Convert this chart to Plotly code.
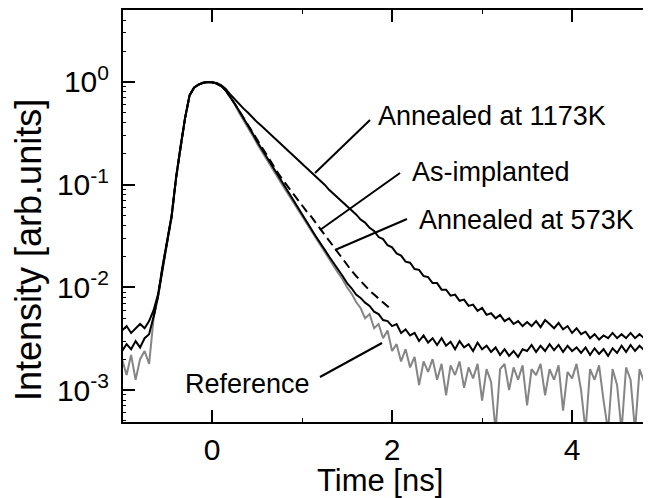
import plotly.graph_objects as go

# ---------------- data ----------------
time_ns = [
    -1.00, -0.95, -0.90, -0.85, -0.80, -0.75, -0.70, -0.65, -0.60, -0.55,
    -0.50, -0.45, -0.40, -0.35, -0.30, -0.25, -0.20, -0.15, -0.10, -0.05,
    0.00, 0.05, 0.10, 0.15, 0.20, 0.25, 0.30, 0.35, 0.40, 0.45,
    0.50, 0.55, 0.60, 0.65, 0.70, 0.75, 0.80, 0.85, 0.90, 0.95,
    1.00, 1.05, 1.10, 1.15, 1.20, 1.25, 1.30, 1.35, 1.40, 1.45,
    1.50, 1.55, 1.60, 1.65, 1.70, 1.75, 1.80, 1.85, 1.90, 1.95,
    2.00, 2.05, 2.10, 2.15, 2.20, 2.25, 2.30, 2.35, 2.40, 2.45,
    2.50, 2.55, 2.60, 2.65, 2.70, 2.75, 2.80, 2.85, 2.90, 2.95,
    3.00, 3.05, 3.10, 3.15, 3.20, 3.25, 3.30, 3.35, 3.40, 3.45,
    3.50, 3.55, 3.60, 3.65, 3.70, 3.75, 3.80, 3.85, 3.90, 3.95,
    4.00, 4.05, 4.10, 4.15, 4.20, 4.25, 4.30, 4.35, 4.40, 4.45,
    4.50, 4.55, 4.60, 4.65, 4.70, 4.75, 4.80, 4.85, 4.90,
]

reference = [
    2.0e-3, 1.4e-3, 2.2e-3, 1.26e-3, 2.0e-3, 2.4e-3, 1.8e-3, 5.0e-3, 8.1e-3, 0.0155,
    0.027, 0.048, 0.115, 0.235, 0.44, 0.735, 0.878, 0.942, 0.981, 1.0,
    0.992, 0.965, 0.91, 0.828, 0.72, 0.61, 0.501, 0.427, 0.355, 0.302,
    0.251, 0.214, 0.178, 0.151, 0.129, 0.110, 0.0933, 0.0794, 0.0676, 0.0575,
    0.049, 0.0417, 0.0355, 0.0302, 0.0263, 0.0219, 0.0191, 0.0162, 0.0138, 0.0120,
    0.0100, 8.7e-3, 7.2e-3, 6.3e-3, 5.0e-3, 5.5e-3, 4.0e-3, 4.4e-3, 3.2e-3, 3.8e-3,
    2.4e-3, 2.8e-3, 1.9e-3, 2.5e-3, 1.66e-3, 2.1e-3, 1.12e-3, 1.9e-3, 1.5e-3, 2.0e-3,
    1.26e-3, 1.8e-3, 8.9e-4, 1.74e-3, 1.4e-3, 1.9e-3, 1.05e-3, 1.66e-3, 1.3e-3, 1.8e-3,
    7.9e-4, 1.6e-3, 1.2e-3, 4.0e-4, 1.6e-3, 1.8e-3, 1.0e-3, 1.66e-3, 1.26e-3, 1.74e-3,
    7.1e-4, 1.6e-3, 1.4e-3, 1.8e-3, 8.9e-4, 1.6e-3, 1.26e-3, 1.74e-3, 6.3e-4, 1.5e-3,
    1.3e-3, 1.8e-3, 1.0e-3, 4.0e-4, 1.6e-3, 1.26e-3, 1.74e-3, 7.9e-4, 4.0e-4, 1.6e-3,
    1.12e-3, 4.0e-4, 1.66e-3, 1.26e-3, 4.0e-4, 1.6e-3, 1.2e-3, 1.8e-3, 1.0e-3,
]

annealed_573k = [
    2.4e-3, 2.8e-3, 2.5e-3, 3.0e-3, 2.6e-3, 3.2e-3, 3.5e-3, 5.2e-3, 8.3e-3, 0.0158,
    0.0275, 0.049, 0.117, 0.240, 0.447, 0.741, 0.881, 0.944, 0.982, 1.0,
    0.993, 0.966, 0.912, 0.832, 0.724, 0.617, 0.525, 0.447, 0.372, 0.316,
    0.263, 0.224, 0.186, 0.158, 0.135, 0.115, 0.0977, 0.0832, 0.0708, 0.0603,
    0.0513, 0.0437, 0.0372, 0.0316, 0.0275, 0.0234, 0.0200, 0.0174, 0.0148, 0.0129,
    0.0110, 9.8e-3, 8.5e-3, 7.9e-3, 7.1e-3, 6.6e-3, 5.8e-3, 5.5e-3, 4.8e-3, 4.7e-3,
    4.2e-3, 4.4e-3, 3.6e-3, 3.9e-3, 3.4e-3, 3.6e-3, 3.0e-3, 3.4e-3, 2.9e-3, 3.2e-3,
    2.75e-3, 3.2e-3, 2.7e-3, 2.95e-3, 2.5e-3, 3.0e-3, 2.6e-3, 2.8e-3, 2.4e-3, 2.9e-3,
    2.5e-3, 2.7e-3, 2.35e-3, 2.6e-3, 2.2e-3, 2.5e-3, 2.15e-3, 2.4e-3, 2.1e-3, 2.5e-3,
    2.4e-3, 2.75e-3, 2.35e-3, 2.7e-3, 2.4e-3, 2.8e-3, 2.45e-3, 2.75e-3, 2.35e-3, 2.7e-3,
    2.4e-3, 2.6e-3, 2.3e-3, 2.6e-3, 2.2e-3, 2.55e-3, 2.25e-3, 2.5e-3, 2.15e-3, 2.55e-3,
    2.3e-3, 2.7e-3, 2.35e-3, 2.75e-3, 2.4e-3, 2.7e-3, 2.45e-3, 2.8e-3, 2.5e-3,
]

as_implanted = (
    [None] * 7
    + [5.2e-3, 8.3e-3, 0.0158,
       0.0275, 0.049, 0.117, 0.240, 0.447, 0.741, 0.881, 0.944, 0.982, 1.0,
       0.993, 0.966, 0.912, 0.832, 0.724, 0.617, 0.525, 0.447, 0.372, 0.316,
       0.269, 0.229, 0.195, 0.170, 0.145, 0.123, 0.107, 0.0933, 0.0813, 0.0708,
       0.0631, 0.055, 0.049, 0.0427, 0.0372, 0.0324, 0.0282, 0.0245, 0.0214, 0.0186,
       0.0162, 0.0145, 0.0129, 0.0115, 0.0102, 9.3e-3, 8.5e-3, 7.8e-3, 7.1e-3, 6.5e-3,
       6.0e-3]
    + [None] * 58
)

annealed_1173k = [
    3.8e-3, 4.2e-3, 3.6e-3, 4.0e-3, 4.4e-3, 4.0e-3, 4.7e-3, 6.0e-3, 8.6e-3, 0.0162,
    0.028, 0.05, 0.118, 0.242, 0.45, 0.745, 0.884, 0.946, 0.983, 1.0,
    0.995, 0.977, 0.933, 0.861, 0.759, 0.676, 0.603, 0.550, 0.501, 0.447,
    0.407, 0.372, 0.339, 0.309, 0.282, 0.257, 0.234, 0.209, 0.191, 0.174,
    0.158, 0.145, 0.132, 0.120, 0.110, 0.100, 0.0891, 0.0813, 0.0741, 0.0676,
    0.0617, 0.0562, 0.0513, 0.0457, 0.0427, 0.038, 0.0355, 0.0309, 0.0295, 0.0257,
    0.0245, 0.0214, 0.0204, 0.0178, 0.0174, 0.0151, 0.0148, 0.0129, 0.0126, 0.011,
    0.011, 9.5e-3, 9.5e-3, 8.3e-3, 8.5e-3, 7.4e-3, 7.6e-3, 6.6e-3, 6.8e-3, 5.9e-3,
    6.3e-3, 5.4e-3, 5.6e-3, 5.0e-3, 5.4e-3, 4.7e-3, 5.0e-3, 4.4e-3, 4.7e-3, 4.2e-3,
    4.6e-3, 4.2e-3, 4.7e-3, 4.1e-3, 4.8e-3, 4.4e-3, 4.0e-3, 4.5e-3, 3.9e-3, 4.2e-3,
    3.6e-3, 4.0e-3, 3.5e-3, 3.7e-3, 3.2e-3, 3.5e-3, 3.1e-3, 3.4e-3, 3.2e-3, 3.6e-3,
    3.2e-3, 3.5e-3, 3.2e-3, 3.6e-3, 3.2e-3, 3.5e-3, 3.2e-3, 3.6e-3, 3.3e-3,
]

x_tick_vals = [0, 2, 4]
x_tick_text = ["0", "2", "4"]
y_tick_vals = [1e-3, 1e-2, 1e-1, 1e0]
y_tick_text = ["10<sup>-3</sup>", "10<sup>-2</sup>", "10<sup>-1</sup>", "10<sup>0</sup>"]

labels = ["Annealed at 1173K", "As-implanted", "Annealed at 573K", "Reference"]

# ---------------- layout helpers ----------------
# The page body has an 8px margin, so the figure is sized to fit the window
# after that offset; all positions below are given in window pixels.
OFF = 8
WIN_W, WIN_H = 651, 498
W, H = WIN_W - OFF, WIN_H - OFF
BOX_L, BOX_T, BOX_R, BOX_B = 123, 10, 651, 422   # plot box in window pixels
L, T = BOX_L - OFF, BOX_T - OFF
R = WIN_W - BOX_R
B = WIN_H - BOX_B
PW, PH = BOX_R - BOX_L, BOX_B - BOX_T


def px(x):
    return (x - BOX_L) / PW


def py(y):
    return (BOX_B - y) / PH


FONT = "Liberation Sans, Arial, Helvetica, sans-serif"

fig = go.Figure()
fig.add_trace(go.Scatter(x=time_ns, y=reference, mode="lines",
                         line=dict(color="#858585", width=2), name="Reference"))
fig.add_trace(go.Scatter(x=time_ns, y=annealed_573k, mode="lines",
                         line=dict(color="black", width=2), name="Annealed at 573K"))
fig.add_trace(go.Scatter(x=time_ns, y=as_implanted, mode="lines",
                         line=dict(color="black", width=2, dash="9px,5px"),
                         name="As-implanted"))
fig.add_trace(go.Scatter(x=time_ns, y=annealed_1173k, mode="lines",
                         line=dict(color="black", width=2), name="Annealed at 1173K"))

# leader lines (window pixel positions)
leaders = [
    ((315, 173), (370, 120)),
    ((320, 230), (400, 173)),
    ((335, 250), (407, 219)),
    ((320, 377), (382, 343)),
]
for (x0, y0), (x1, y1) in leaders:
    fig.add_shape(type="line", xref="paper", yref="paper",
                  x0=px(x0), y0=py(y0), x1=px(x1), y1=py(y1),
                  line=dict(color="black", width=2))

label_pos = [(376, 116, "left"), (410, 172, "left"), (417, 220, "left"), (312, 384, "right")]
for text, (x, y, anc) in zip(labels, label_pos):
    fig.add_annotation(text=text, xref="paper", yref="paper", x=px(x), y=py(y),
                       xanchor=anc, yanchor="middle", showarrow=False,
                       font=dict(family=FONT, size=27, color="black"))

# axis titles
fig.add_annotation(text="Time [ns]", xref="paper", yref="paper", x=px(380), y=py(480),
                   xanchor="center", yanchor="middle", showarrow=False,
                   font=dict(family=FONT, size=31, color="black"))
fig.add_annotation(text="Intensity [arb.units]", xref="paper", yref="paper",
                   x=px(29), y=py(250), xanchor="center", yanchor="middle",
                   textangle=-90, showarrow=False,
                   font=dict(family=FONT, size=36, color="black"))

minor_y = [m * 10.0 ** e for e in range(-4, 1) for m in range(2, 10)]

fig.update_layout(
    width=W, height=H,
    margin=dict(l=L, r=R, t=T, b=B, pad=0, autoexpand=False),
    paper_bgcolor="white", plot_bgcolor="white",
    showlegend=False,
    font=dict(family=FONT, color="black"),
    xaxis=dict(
        range=[-0.99, 4.877], tickvals=x_tick_vals, ticktext=x_tick_text,
        ticks="inside", ticklen=12, tickwidth=2, tickcolor="black",
        showline=True, linewidth=2, linecolor="black", mirror="ticks",
        showgrid=False, zeroline=False,
        tickfont=dict(family=FONT, size=30, color="black"),
        minor=dict(tickvals=[1, 3], ticks="inside", ticklen=4, tickwidth=1,
                   tickcolor="black", showgrid=False),
    ),
    yaxis=dict(
        type="log", range=[-3.311, 0.701],
        tickvals=y_tick_vals, ticktext=y_tick_text,
        ticks="inside", ticklen=12, tickwidth=2, tickcolor="black",
        ticklabelstandoff=6,
        showline=True, linewidth=2, linecolor="black", mirror=False,
        showgrid=False, zeroline=False,
        tickfont=dict(family=FONT, size=30, color="black"),
        minor=dict(tickvals=minor_y, ticks="inside", ticklen=3, tickwidth=1,
                   tickcolor="black", showgrid=False),
    ),
)

fig.write_html("out.html")
